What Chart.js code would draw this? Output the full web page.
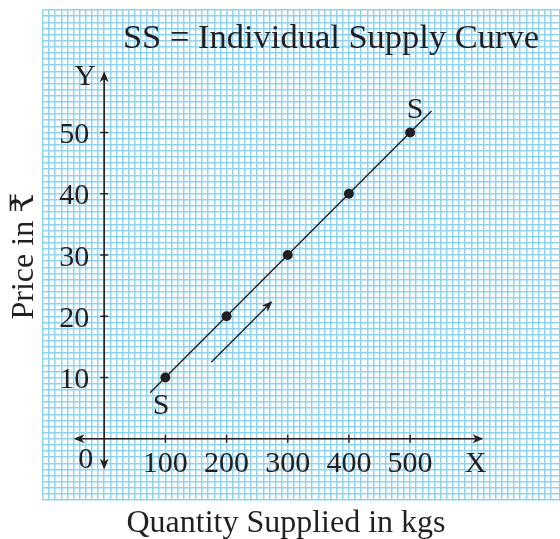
<!DOCTYPE html>
<html><head><meta charset="utf-8">
<script src="https://cdn.jsdelivr.net/npm/chart.js@4.4.1/dist/chart.umd.min.js"></script>
<style>html,body{margin:0;padding:0;background:#fff}#wrap{width:560px;height:539px;position:relative}</style>
</head><body><div id="wrap"><canvas id="c" width="560" height="539"></canvas></div>
<script>
// ---- data ----
const quantities = [100, 200, 300, 400, 500];
const prices = [10, 20, 30, 40, 50];
const xTickLabels = ['100', '200', '300', '400', '500'];
const yTickLabels = ['10', '20', '30', '40', '50'];
const supplyLineX = [75, 535];
const supplyLineY = [7.5, 53.5];
const moveArrowX = [175, 275];
const moveArrowY = [12.5, 22.5];
const xAxisRange = [-50, 620];
const yAxisRange = [-5, 60];
const curveLabelX = [93, 508];
const curveLabelY = [5.6, 54];
const curveLabelText = ['S', 'S'];
const titleText = 'SS = Individual Supply Curve';
const xTitle = 'Quantity Supplied in kgs';
const yTitle = 'Price in \u20B9';

const INK = '#231f20';
const FONT = "'Liberation Serif', 'DejaVu Serif', 'Noto Sans', serif";

function arrowHead(ctx, tx, ty, ang, len, half) {
  ctx.save();
  ctx.translate(tx, ty);
  ctx.rotate(ang);
  ctx.beginPath();
  ctx.moveTo(0, 0);
  ctx.lineTo(-len, -half);
  ctx.lineTo(-len * 0.7, 0);
  ctx.lineTo(-len, half);
  ctx.closePath();
  ctx.fill();
  ctx.restore();
}

const overlay = {
  id: 'overlay',
  afterDatasetsDraw(chart) {
    const ctx = chart.ctx;
    const xs = chart.scales.x, ys = chart.scales.y;
    const px = v => xs.getPixelForValue(v), py = v => ys.getPixelForValue(v);
    const x0 = px(0), y0 = py(0);
    ctx.save();
    ctx.strokeStyle = INK; ctx.fillStyle = INK; ctx.lineWidth = 1.6;
    const seg = (a, b, c, d) => { ctx.beginPath(); ctx.moveTo(a, b); ctx.lineTo(c, d); ctx.stroke(); };
    // x axis
    const xl = px(xAxisRange[0]), xr = px(xAxisRange[1]);
    seg(xl + 4, y0, xr - 4, y0);
    arrowHead(ctx, xr, y0, 0, 11, 4.5);
    arrowHead(ctx, xl, y0, Math.PI, 11, 4.5);
    // y axis
    const yb = py(yAxisRange[0]), yt = py(yAxisRange[1]);
    seg(x0, yb - 4, x0, yt + 4);
    arrowHead(ctx, x0, yt, -Math.PI / 2, 11, 4.5);
    arrowHead(ctx, x0, yb, Math.PI / 2, 11, 4.5);
    // tick marks
    ctx.lineWidth = 1.4;
    quantities.forEach(q => seg(px(q), y0 - 4, px(q), y0 + 4));
    prices.forEach(p => seg(x0 - 4, py(p), x0 + 4, py(p)));
    // movement arrow
    const ax0 = px(moveArrowX[0]), ay0 = py(moveArrowY[0]);
    const ax1 = px(moveArrowX[1]), ay1 = py(moveArrowY[1]);
    const ang = Math.atan2(ay1 - ay0, ax1 - ax0);
    ctx.lineWidth = 1.3;
    seg(ax0, ay0, ax1 - 5 * Math.cos(ang), ay1 - 5 * Math.sin(ang));
    arrowHead(ctx, ax1, ay1, ang, 11, 4.2);
    // tick labels
    ctx.font = '30px ' + FONT;
    ctx.textBaseline = 'alphabetic';
    ctx.textAlign = 'center';
    xTickLabels.forEach((t, i) => ctx.fillText(t, px(quantities[i]), y0 + 33));
    ctx.textAlign = 'right';
    yTickLabels.forEach((t, i) => ctx.fillText(t, x0 - 15, py(prices[i]) + 10.5));
    ctx.fillText('0', x0 - 11, y0 + 29);
    ctx.textAlign = 'center';
    ctx.fillText('X', xr - 8, y0 + 33);
    ctx.fillText('Y', x0 - 19, yt + 14);
    curveLabelText.forEach((t, i) => ctx.fillText(t, px(curveLabelX[i]), py(curveLabelY[i]) + 10));
    // title
    ctx.font = '34.5px ' + FONT;
    ctx.fillText(titleText, 331, 48);
    // axis titles
    ctx.font = '32px ' + FONT;
    ctx.fillText(xTitle, 286, 532);
    ctx.save();
    ctx.translate(33, 256);
    ctx.rotate(-Math.PI / 2);
    ctx.fillText(yTitle, 0, 0);
    ctx.restore();
    ctx.restore();
  }
};

const gridColor = '#8fd3f1';
new Chart(document.getElementById('c'), {
  type: 'scatter',
  data: {
    datasets: [
      {
        data: supplyLineX.map((x, i) => ({ x, y: supplyLineY[i] })),
        showLine: true, borderColor: INK, borderWidth: 1.4, pointRadius: 0
      },
      {
        data: quantities.map((q, i) => ({ x: q, y: prices[i] })),
        showLine: false, pointRadius: 5, backgroundColor: INK, borderColor: INK, borderWidth: 0
      }
    ]
  },
  options: {
    responsive: false,
    animation: false,
    devicePixelRatio: 1,
    layout: { autoPadding: false, padding: { left: 43, top: 10, right: 0, bottom: 39 } },
    plugins: { legend: { display: false }, tooltip: { enabled: false }, title: { display: false } },
    scales: {
      x: {
        type: 'linear', min: -100, max: 745,
        border: { display: false },
        grid: { color: gridColor, lineWidth: 1.5, drawTicks: false },
        ticks: { display: false, stepSize: 10, autoSkip: false }
      },
      y: {
        type: 'linear', min: -10, max: 70,
        border: { display: false },
        grid: { color: gridColor, lineWidth: 1.5, drawTicks: false },
        ticks: { display: false, stepSize: 1, autoSkip: false }
      }
    }
  },
  plugins: [overlay]
});
</script>
</body></html>
